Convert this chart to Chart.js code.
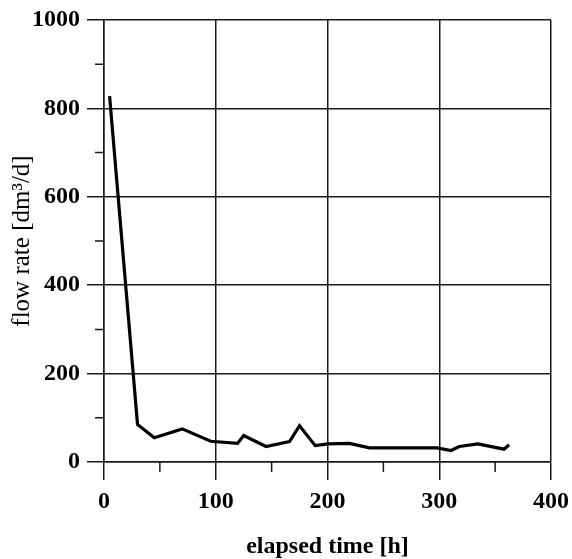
<!DOCTYPE html>
<html>
<head>
<meta charset="utf-8">
<script src="https://cdn.jsdelivr.net/npm/chart.js@4"></script>
<style>
html,body{margin:0;padding:0;background:#fff;}
#wrap{width:572px;height:559px;}
</style>
</head>
<body>
<div id="wrap"><canvas id="c" width="572" height="559"></canvas></div>
<script>
const elapsedHours = [5, 30, 45, 70, 95.5, 119.5, 125, 145, 166, 175, 189, 200.5, 219.5, 237.5, 298, 310.5, 318, 334.5, 358, 362.5];
const flowRate = [828, 85, 55, 75, 47, 42, 60, 35, 46, 82, 37, 41, 42, 32, 32, 26, 35, 41, 29, 39];
const xMajorTicks = [0, 100, 200, 300, 400];
const yMajorTicks = [0, 200, 400, 600, 800, 1000];
const xMinorTicks = [50, 150, 250, 350];
const yMinorTicks = [100, 300, 500, 700, 900];
const xTitle = 'elapsed time [h]';
const yTitle = 'flow rate [dm³/d]';

const points = elapsedHours.map((x, i) => ({x: x, y: flowRate[i]}));
const serif = '"Liberation Serif", "Times New Roman", serif';
const axisColor = '#1a1a1a';

const minorTicks = {
  id: 'minorTicks',
  afterDraw(chart) {
    const ctx = chart.ctx;
    const xs = chart.scales.x, ys = chart.scales.y;
    ctx.save();
    ctx.strokeStyle = axisColor;
    ctx.lineWidth = 1.5;
    ctx.beginPath();
    xMinorTicks.forEach(v => {
      const px = xs.getPixelForValue(v);
      ctx.moveTo(px, ys.bottom);
      ctx.lineTo(px, ys.bottom + 10);
    });
    yMinorTicks.forEach(v => {
      const py = ys.getPixelForValue(v);
      ctx.moveTo(xs.left, py);
      ctx.lineTo(xs.left - 9, py);
    });
    ctx.stroke();
    ctx.restore();
  }
};

new Chart(document.getElementById('c'), {
  type: 'line',
  data: {
    datasets: [{
      data: points,
      borderColor: '#000',
      borderWidth: 3.2,
      pointRadius: 0,
      tension: 0,
      fill: false
    }]
  },
  options: {
    responsive: false,
    animation: false,
    layout: {padding: {top: 20, right: 21, bottom: 0, left: 0}},
    plugins: {legend: {display: false}, tooltip: {enabled: false}},
    scales: {
      x: {
        type: 'linear',
        min: 0, max: 400,
        afterBuildTicks: s => { s.ticks = xMajorTicks.map(v => ({value: v})); },
        afterFit: s => { s.height = 97; s.paddingRight = 0; s.paddingLeft = 0; },
        grid: {color: axisColor, lineWidth: 1.5, tickLength: 18, drawOnChartArea: true},
        border: {color: axisColor, width: 1.5},
        ticks: {color: '#000', padding: 7, maxRotation: 0, callback: v => String(v), font: {family: serif, size: 24, weight: 'bold'}},
        title: {display: true, text: xTitle, color: '#000', padding: {top: 0, bottom: 0}, font: {family: serif, size: 24, weight: 'bold', lineHeight: 1.0}}
      },
      y: {
        type: 'linear',
        min: 0, max: 1000,
        afterBuildTicks: s => { s.ticks = yMajorTicks.map(v => ({value: v})); },
        afterFit: s => { s.width = 104; s.paddingTop = 0; s.paddingBottom = 0; },
        grid: {color: axisColor, lineWidth: 1.5, tickLength: 17},
        border: {color: axisColor, width: 1.5},
        ticks: {color: '#000', padding: 7, callback: v => String(v), font: {family: serif, size: 24, weight: 'bold'}},
        title: {display: true, text: yTitle, color: '#000', padding: {top: 7, bottom: 0}, font: {family: serif, size: 25, weight: 'normal', lineHeight: 1.2}}
      }
    }
  },
  plugins: [minorTicks]
});
</script>
</body>
</html>
